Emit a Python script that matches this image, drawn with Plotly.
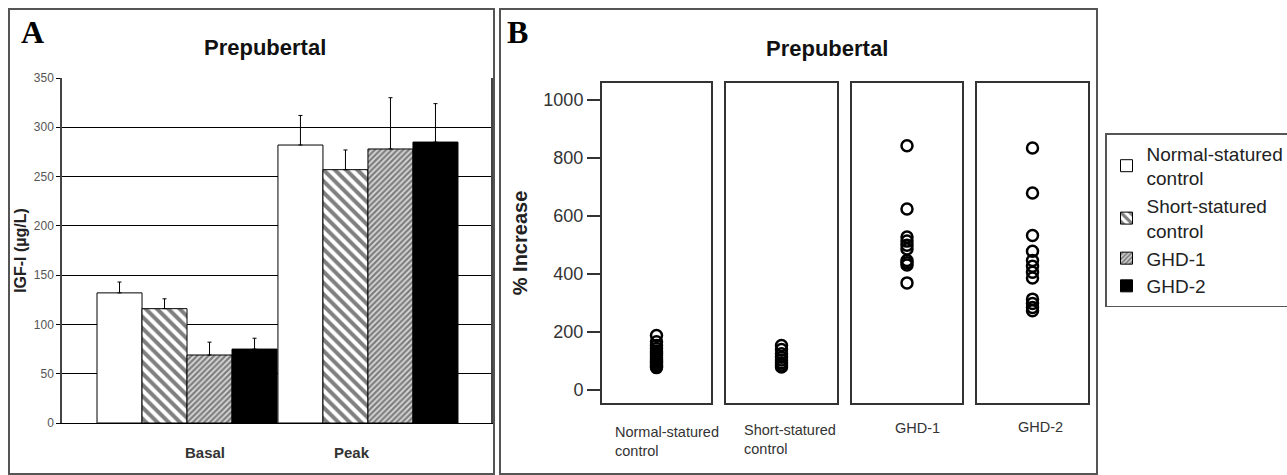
import plotly.graph_objects as go

W, H = 1287, 475

# ---------------- Panel A data (IGF-I, µg/L) ----------------
phases = ["Basal", "Peak"]
group_names = ["Normal-statured<br>control", "Short-statured<br>control", "GHD-1", "GHD-2"]
igf_normal = [132, 282]
igf_short = [116, 257]
igf_ghd1 = [69, 278]
igf_ghd2 = [75, 285]
sd_normal = [11, 30]
sd_short = [10, 20]
sd_ghd1 = [13, 52]
sd_ghd2 = [11, 39]
igf_ticks = [0, 50, 100, 150, 200, 250, 300, 350]

# ---------------- Panel B data (% increase) ----------------
facet_labels = ["Normal-statured<br>control", "Short-statured<br>control", "GHD-1", "GHD-2"]
pct_normal = [187, 165, 152, 142, 133, 125, 118, 110, 103, 97, 91, 85, 80, 76]
pct_short = [152, 138, 124, 112, 102, 93, 85, 78]
pct_ghd1 = [841, 623, 526, 512, 498, 485, 445, 437, 430, 368]
pct_ghd2 = [833, 678, 531, 477, 445, 425, 405, 385, 312, 297, 283, 272]
pct_ticks = [0, 200, 400, 600, 800, 1000]


def px(x):
    return x / W


def py(y):
    return 1 - y / H


NARROW = "Liberation Sans Narrow, Arial Narrow, Liberation Sans, sans-serif"
SANS = "Liberation Sans, Arial, sans-serif"
SERIF = "Liberation Serif, Times New Roman, serif"

fig = go.Figure()

bar_specs = [
    (igf_normal, sd_normal, dict(color="white", line=dict(color="black", width=1))),
    (igf_short, sd_short, dict(color="white", line=dict(color="black", width=1),
                               pattern=dict(shape="\\", size=8, solidity=0.5,
                                            fgcolor="black", bgcolor="white"))),
    (igf_ghd1, sd_ghd1, dict(color="white", line=dict(color="black", width=1),
                             pattern=dict(shape="/", size=4, solidity=0.6,
                                          fgcolor="#222222", bgcolor="#dddddd"))),
    (igf_ghd2, sd_ghd2, dict(color="black", line=dict(color="black", width=1))),
]
for name, (vals, sds, mk) in zip(group_names, bar_specs):
    fig.add_trace(go.Bar(
        x=phases, y=vals, name=name, marker=mk,
        error_y=dict(type="data", array=sds, arrayminus=[0] * len(sds), symmetric=False,
                     thickness=1, width=2, color="black"),
        xaxis="x", yaxis="y",
    ))

for i, (lab, vals) in enumerate(zip(facet_labels, [pct_normal, pct_short, pct_ghd1, pct_ghd2])):
    fig.add_trace(go.Scatter(
        x=[lab] * len(vals), y=vals, mode="markers", showlegend=False,
        marker=dict(symbol="circle-open", size=11, color="black", line=dict(width=2.5, color="black")),
        xaxis=f"x{i + 2}", yaxis=f"y{i + 2}",
    ))

layout = dict(
    width=W, height=H,
    margin=dict(l=0, r=0, t=0, b=0, autoexpand=False),
    paper_bgcolor="white", plot_bgcolor="white",
    barmode="group", bargap=0.005, bargroupgap=0,
    showlegend=True,
    legend=dict(
        x=px(1105), y=py(133), xanchor="left", yanchor="top",
        bordercolor="#555555", borderwidth=1.5, bgcolor="white",
        font=dict(family=SANS, size=19, color="#222222"),
        itemwidth=30, traceorder="normal",
    ),
    xaxis=dict(
        domain=[px(62), px(491)], anchor="y", type="category",
        range=[-0.691, 1.680], showticklabels=False, ticks="",
        showline=True, linecolor="black", linewidth=1, showgrid=False, zeroline=False,
    ),
    yaxis=dict(
        domain=[py(423), py(78)], anchor="x", range=[0, 350],
        tickvals=igf_ticks, ticks="outside", ticklen=4, tickcolor="black",
        tickfont=dict(family=NARROW, size=12, color="#555555"),
        showgrid=True, gridcolor="black", gridwidth=1,
        showline=True, linecolor="#444444", linewidth=1.5, mirror=True,
        zeroline=False, automargin=False,
        title=dict(text="<b>IGF-I (µg/L)</b>", standoff=3,
                   font=dict(family=SANS, size=16, color="#222222")),
    ),
)

box_x = [(602, 711), (726, 837), (852, 962), (977, 1088)]
for i, ((x0, x1), lab) in enumerate(zip(box_x, facet_labels)):
    k = i + 2
    layout[f"xaxis{k}"] = dict(
        domain=[px(x0), px(x1)], anchor=f"y{k}", type="category", range=[-0.5, 0.5],
        showticklabels=False, ticks="", showgrid=False, zeroline=False,
        showline=True, mirror=True, linecolor="#333333", linewidth=2,
    )
    ya = dict(
        domain=[py(403), py(83)], anchor=f"x{k}", range=[-46, 1057],
        showgrid=False, zeroline=False,
        showline=True, mirror=True, linecolor="#333333", linewidth=2,
    )
    if k == 2:
        ya.update(
            tickvals=pct_ticks, ticks="outside", ticklen=13, tickcolor="#333333", tickwidth=1.5,
            tickfont=dict(family=SANS, size=18, color="#333333"),
            automargin=False,
            title=dict(text="<b>% Increase</b>", standoff=10,
                       font=dict(family=SANS, size=20, color="#222222")),
        )
    else:
        ya.update(matches="y2", showticklabels=False, ticks="")
    layout[f"yaxis{k}"] = ya

fig.update_layout(**layout)

annotations = [
    dict(text="<b>A</b>", x=px(32), y=py(32), font=dict(family=SERIF, size=32, color="black")),
    dict(text="<b>B</b>", x=px(517), y=py(32), font=dict(family=SERIF, size=32, color="black")),
    dict(text="<b>Prepubertal</b>", x=px(265), y=py(47), font=dict(family=NARROW, size=22, color="#111111")),
    dict(text="<b>Prepubertal</b>", x=px(827), y=py(48), font=dict(family=NARROW, size=22, color="#111111")),
    dict(text="<b>Basal</b>", x=px(205), y=py(452), font=dict(family=NARROW, size=15, color="#333333")),
    dict(text="<b>Peak</b>", x=px(352), y=py(452), font=dict(family=NARROW, size=15, color="#333333")),
    dict(text=facet_labels[0], x=px(613), y=py(422), xanchor="left", yanchor="top", align="left",
         font=dict(family=NARROW, size=14.5, color="#333333")),
    dict(text=facet_labels[1], x=px(742), y=py(420), xanchor="left", yanchor="top", align="left",
         font=dict(family=NARROW, size=14.5, color="#333333")),
    dict(text=facet_labels[2], x=px(917), y=py(428), font=dict(family=NARROW, size=14.5, color="#333333")),
    dict(text=facet_labels[3], x=px(1040), y=py(427), font=dict(family=NARROW, size=14.5, color="#333333")),
]
for a in annotations:
    a.setdefault("xref", "paper")
    a.setdefault("yref", "paper")
    a.setdefault("xanchor", "center")
    a.setdefault("yanchor", "middle")
    a["showarrow"] = False
    fig.add_annotation(**a)

fig.add_shape(type="rect", xref="paper", yref="paper", x0=px(9), x1=px(494), y0=py(474), y1=py(9),
              line=dict(color="#555555", width=2), layer="above")
fig.add_shape(type="rect", xref="paper", yref="paper", x0=px(500), x1=px(1097), y0=py(474), y1=py(9),
              line=dict(color="#555555", width=2), layer="above")

fig.write_html("out.html")
